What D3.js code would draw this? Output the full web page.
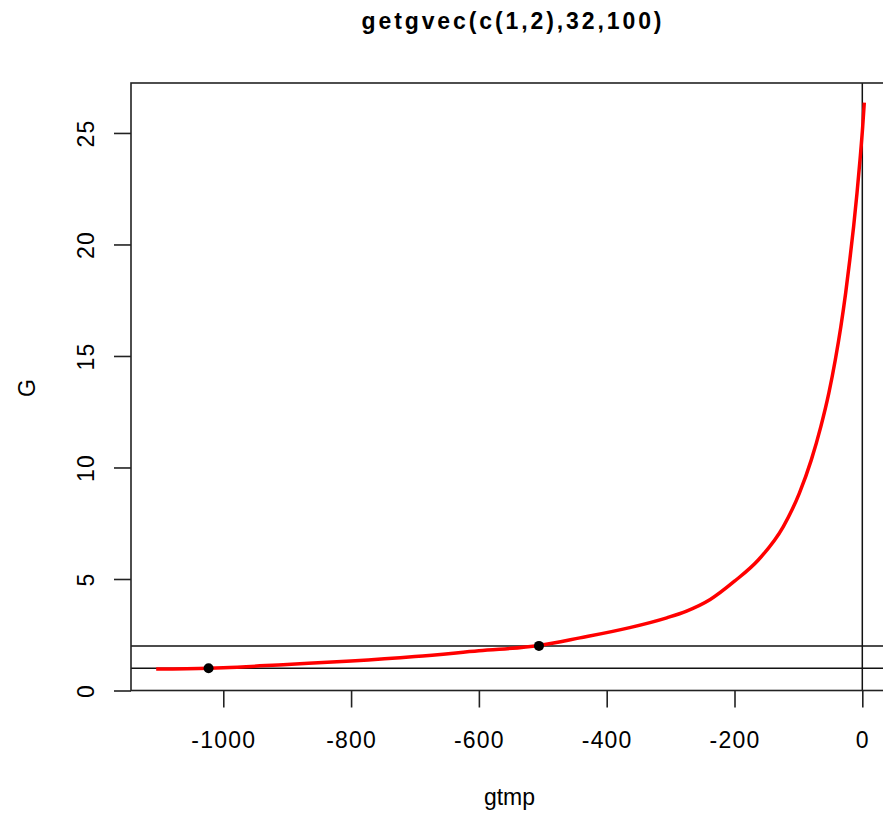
<!DOCTYPE html>
<html>
<head>
<meta charset="utf-8">
<script src="https://cdn.jsdelivr.net/npm/d3@7"></script>
<style>
  body { margin: 0; background: #fff; }
  svg { display: block; }
  text { font-family: "Liberation Sans", Arial, sans-serif; fill: #000; }
</style>
</head>
<body>
<div id="chart"></div>
<script>
// values
var gtmp = [-1105, -1023, -1000, -900, -800, -700, -600, -506, -442, -364, -306, -275, -238, -200,
            -162.8, -123.6, -98.6, -79.8, -64.9, -52.4, -42.3, -33.6, -26.1, -19.6, -13.6, -8.3, -3.6, 0.6, 3.1];
var G = [0.96, 1.0, 1.02, 1.17, 1.32, 1.52, 1.78, 2.02, 2.36, 2.82, 3.26, 3.56, 4.08, 4.9,
         5.85, 7.35, 8.84, 10.34, 11.83, 13.33, 14.82, 16.31, 17.81, 19.30, 20.80, 22.30, 23.79, 25.28, 26.36];
var pointsX = [-1023, -506];
var pointsY = [1, 2];
var hLines = [1, 2];
var vLines = [0];
var xTicks = [-1000, -800, -600, -400, -200, 0];
var yTicks = [0, 5, 10, 15, 20, 25];

const dims = { width: 883, height: 821, left: 131, right: 891, top: 83, bottom: 690.5 };

const svg = d3.select('#chart').append('svg')
  .attr('width', dims.width)
  .attr('height', dims.height);

const x = d3.scaleLinear().domain([-1144.4, 44.9]).range([dims.left, dims.right]);
const y = d3.scaleLinear().domain([0, 27.24]).range([dims.bottom, dims.top]);

// title
svg.append('text')
  .attr('x', 361.5)
  .attr('y', 29)
  .attr('textLength', 300)
  .attr('lengthAdjust', 'spacing')
  .style('font-size', '23px')
  .style('font-weight', 'bold')
  .text('getgvec(c(1,2),32,100)');

// reference lines
svg.selectAll('line.h')
  .data(hLines)
  .enter().append('line')
  .attr('class', 'h')
  .attr('x1', dims.left).attr('x2', dims.right)
  .attr('y1', d => y(d)).attr('y2', d => y(d))
  .attr('stroke', '#111').attr('stroke-width', 1.5);

svg.selectAll('line.v')
  .data(vLines)
  .enter().append('line')
  .attr('class', 'v')
  .attr('x1', d => x(d)).attr('x2', d => x(d))
  .attr('y1', dims.top).attr('y2', dims.bottom)
  .attr('stroke', '#111').attr('stroke-width', 1.5);

// curve
const line = d3.line()
  .x((d, i) => x(gtmp[i]))
  .y(d => y(d))
  .curve(d3.curveMonotoneX);

svg.append('path')
  .datum(G)
  .attr('d', line)
  .attr('fill', 'none')
  .attr('stroke', '#ff0000')
  .attr('stroke-width', 3.5);

// points
svg.selectAll('circle.pt')
  .data(pointsX)
  .enter().append('circle')
  .attr('class', 'pt')
  .attr('cx', d => x(d))
  .attr('cy', (d, i) => y(pointsY[i]))
  .attr('r', 5)
  .attr('fill', '#000');

// box
svg.append('rect')
  .attr('x', dims.left).attr('y', dims.top)
  .attr('width', dims.right - dims.left)
  .attr('height', dims.bottom - dims.top)
  .attr('fill', 'none')
  .attr('stroke', '#222').attr('stroke-width', 1.6);

// x axis
const xAxis = svg.append('g')
  .attr('transform', `translate(0,${dims.bottom})`)
  .call(d3.axisBottom(x).tickValues(xTicks).tickSize(17).tickFormat(d => d < 0 ? '-' + Math.abs(d) : d));
xAxis.select('.domain').remove();
xAxis.selectAll('line').attr('stroke', '#222').attr('stroke-width', 1.6);
xAxis.selectAll('text')
  .attr('y', 57.5).attr('dy', 0)
  .style('font-size', '23px')
  .style('letter-spacing', '1.2px')
  .attr('fill', '#000');

// y axis
const yAxis = svg.append('g')
  .attr('transform', `translate(${dims.left},0)`)
  .call(d3.axisLeft(y).tickValues(yTicks).tickSize(17));
yAxis.select('.domain').remove();
yAxis.selectAll('line').attr('stroke', '#222').attr('stroke-width', 1.6);
yAxis.selectAll('text')
  .attr('transform', 'rotate(-90)')
  .attr('x', 0).attr('y', -37).attr('dy', 0)
  .attr('text-anchor', 'middle')
  .style('font-size', '23px')
  .style('letter-spacing', '1.2px')
  .attr('fill', '#000');

// axis titles
svg.append('text')
  .attr('x', 509.5).attr('y', 805)
  .attr('text-anchor', 'middle')
  .style('font-size', '23px')
  .text('gtmp');

svg.append('text')
  .attr('transform', 'translate(35,388) rotate(-90)')
  .attr('text-anchor', 'middle')
  .style('font-size', '23px')
  .text('G');
</script>
</body>
</html>
